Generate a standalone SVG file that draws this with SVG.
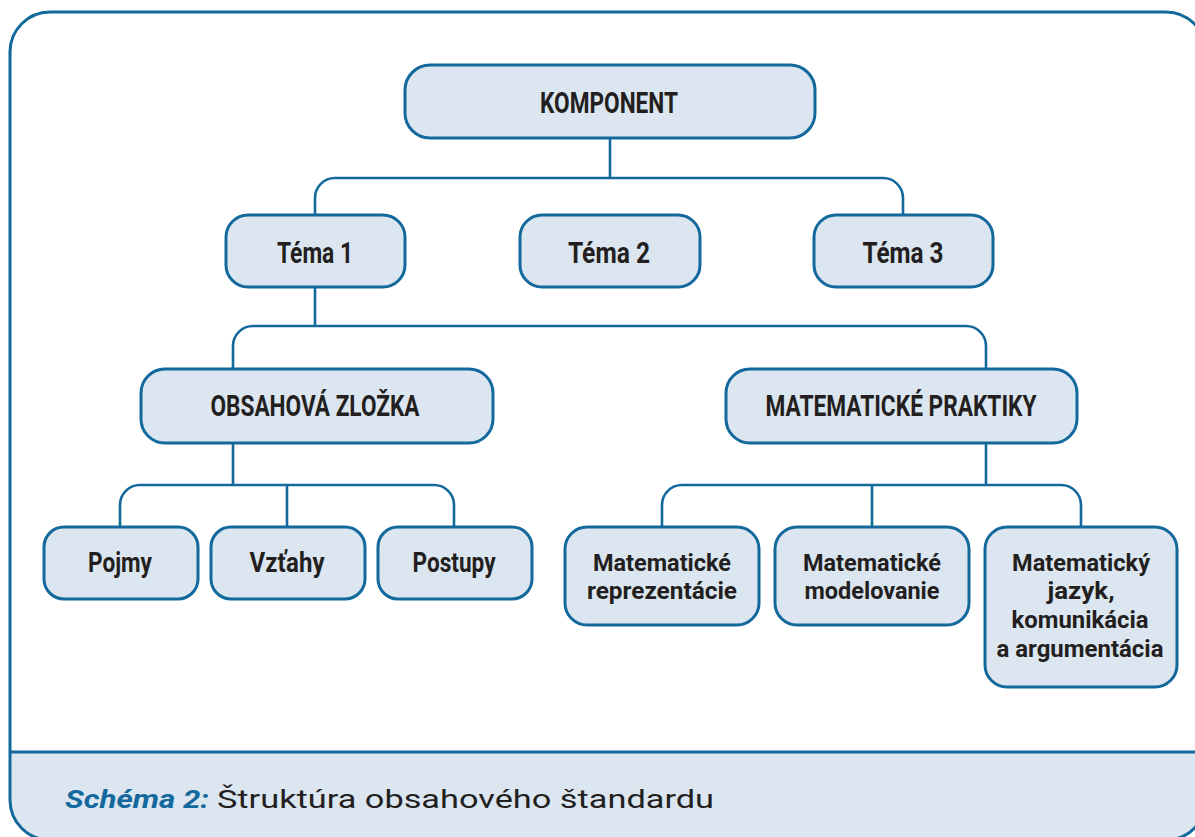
<svg xmlns="http://www.w3.org/2000/svg" width="1195" height="837" viewBox="0 0 1195 837">
<style>
.box{fill:#dce6f1;stroke:#13689c;stroke-width:3}
.con{fill:none;stroke:#13689c;stroke-width:2.6}
.lbl{font-family:Roboto,"Liberation Sans",sans-serif;font-weight:700;fill:#231f20;text-anchor:middle}
.big{font-size:29px}
.mid{font-size:27.5px}
.sm{font-size:24px}
.cap1{font-family:Roboto,"Liberation Sans",sans-serif;font-weight:700;font-style:italic;font-size:26.5px;fill:#13689c}
.cap2{font-family:Roboto,"Liberation Sans",sans-serif;font-weight:400;font-size:26.5px;fill:#231f20}
</style>
<defs>
<clipPath id="frameClip"><rect x="10" y="12" width="1196" height="828" rx="40" ry="40"/></clipPath>
</defs>
<g id="frame">
<rect x="10" y="752" width="1196" height="90" fill="#dce6f1" clip-path="url(#frameClip)"/>
<line x1="10" y1="752" x2="1206" y2="752" stroke="#13689c" stroke-width="3"/>
<rect x="10" y="12" width="1196" height="828" rx="40" ry="40" fill="none" stroke="#13689c" stroke-width="3"/>
</g>
<g id="connectors">
<path class="con" d="M610,138 V178 M315,215 V198 A20,20 0 0 1 335,178 H883 A20,20 0 0 1 903,198 V215"/>
<path class="con" d="M315,287 V326 M233,369 V346 A20,20 0 0 1 253,326 H966 A20,20 0 0 1 986,346 V369"/>
<path class="con" d="M233,443 V485 M120,527 V505 A20,20 0 0 1 140,485 H434 A20,20 0 0 1 454,505 V527 M287,485 V527"/>
<path class="con" d="M986,443 V485 M662,527 V505 A20,20 0 0 1 682,485 H1061 A20,20 0 0 1 1081,505 V527 M872,485 V527"/>
</g>
<g id="komponent">
<rect class="box" x="405" y="65" width="410" height="73" rx="25"/>
<text class="lbl big" x="609" y="112.5" textLength="138" lengthAdjust="spacingAndGlyphs">KOMPONENT</text>
</g>
<g id="tema1">
<rect class="box" x="226" y="215" width="179" height="72" rx="22"/>
<text class="lbl big" x="315" y="262.5" textLength="76" lengthAdjust="spacingAndGlyphs">Téma 1</text>
</g>
<g id="tema2">
<rect class="box" x="520" y="215" width="180" height="72" rx="22"/>
<text class="lbl big" x="609" y="262.5" textLength="82" lengthAdjust="spacingAndGlyphs">Téma 2</text>
</g>
<g id="tema3">
<rect class="box" x="814" y="215" width="179" height="72" rx="22"/>
<text class="lbl big" x="903" y="262.5" textLength="81" lengthAdjust="spacingAndGlyphs">Téma 3</text>
</g>
<g id="obsahova">
<rect class="box" x="141" y="369" width="352" height="74" rx="24"/>
<text class="lbl big" x="315" y="416" textLength="209" lengthAdjust="spacingAndGlyphs">OBSAHOVÁ ZLOŽKA</text>
</g>
<g id="praktiky">
<rect class="box" x="726" y="369" width="351" height="74" rx="24"/>
<text class="lbl big" x="901" y="416" textLength="271" lengthAdjust="spacingAndGlyphs">MATEMATICKÉ PRAKTIKY</text>
</g>
<g id="pojmy">
<rect class="box" x="44" y="527" width="154" height="72" rx="20"/>
<text class="lbl mid" x="120" y="572" textLength="64" lengthAdjust="spacingAndGlyphs">Pojmy</text>
</g>
<g id="vztahy">
<rect class="box" x="211" y="527" width="154" height="72" rx="20"/>
<text class="lbl mid" x="287" y="572" textLength="75" lengthAdjust="spacingAndGlyphs">Vzťahy</text>
</g>
<g id="postupy">
<rect class="box" x="378" y="527" width="154" height="72" rx="20"/>
<text class="lbl mid" x="454" y="572" textLength="83" lengthAdjust="spacingAndGlyphs">Postupy</text>
</g>
<g id="reprezentacie">
<rect class="box" x="565" y="527" width="194" height="98" rx="22"/>
<text class="lbl sm" x="662" y="570.5" textLength="138" lengthAdjust="spacingAndGlyphs">Matematické</text>
<text class="lbl sm" x="662" y="598.5" textLength="150" lengthAdjust="spacingAndGlyphs">reprezentácie</text>
</g>
<g id="modelovanie">
<rect class="box" x="775" y="527" width="194" height="98" rx="22"/>
<text class="lbl sm" x="872" y="570.5" textLength="138" lengthAdjust="spacingAndGlyphs">Matematické</text>
<text class="lbl sm" x="872" y="598.5" textLength="135" lengthAdjust="spacingAndGlyphs">modelovanie</text>
</g>
<g id="jazyk">
<rect class="box" x="985" y="527" width="192" height="160" rx="22"/>
<text class="lbl sm" x="1081" y="570.5" textLength="138" lengthAdjust="spacingAndGlyphs">Matematický</text>
<text class="lbl sm" x="1081" y="599" textLength="67" lengthAdjust="spacingAndGlyphs">jazyk,</text>
<text class="lbl sm" x="1080" y="628" textLength="137" lengthAdjust="spacingAndGlyphs">komunikácia</text>
<text class="lbl sm" x="1080" y="657" textLength="167" lengthAdjust="spacingAndGlyphs">a argumentácia</text>
</g>
<g id="caption">
<text class="cap1" x="65" y="808" textLength="144" lengthAdjust="spacingAndGlyphs">Schéma 2:</text>
<text class="cap2" x="217" y="808" textLength="497" lengthAdjust="spacingAndGlyphs">Štruktúra obsahového štandardu</text>
</g>
</svg>
